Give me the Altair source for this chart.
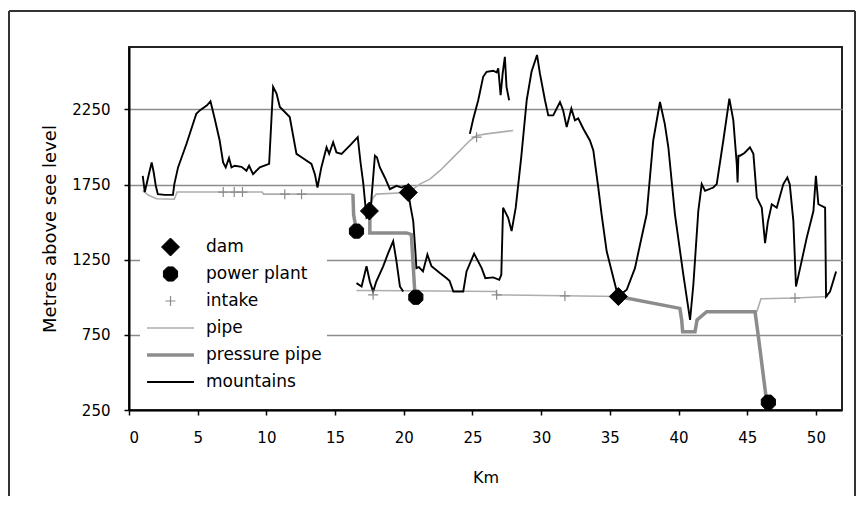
import altair as alt
import pandas as pd

# ---------------- data ----------------
series_names = ["dam", "power plant", "intake", "pipe", "pressure pipe", "mountains"]

# main mountain profile
mtn_km = [1.0, 1.15, 1.45, 1.65, 1.8, 1.95, 2.1, 2.6, 3.2, 3.3, 3.57, 4.18, 4.9, 5.15, 5.68, 5.93,
          6.24, 6.6, 6.85, 7.04, 7.28, 7.46, 7.7, 8.19, 8.55, 8.74, 9.03, 9.52, 10.2, 10.37, 10.49,
          10.74, 10.98, 11.7, 12.19, 12.56, 13.28, 13.53, 13.72, 14.0, 14.38, 14.57, 14.86, 15.1,
          15.47, 16.07, 16.65, 16.85, 17.05, 17.29, 17.45, 17.6, 17.9, 18.05, 18.26, 18.62, 18.99,
          19.47, 19.84, 20.1, 20.33, 20.5, 20.69, 20.85, 20.92, 21.1, 21.4, 21.72, 22.02, 22.63,
          23.12, 23.33, 23.61, 24.33, 24.57, 25.12, 25.67, 25.94, 26.51, 26.95, 27.1, 27.23, 27.6,
          27.85, 28.15, 28.55, 28.95, 29.3, 29.7, 29.91, 30.28, 30.52, 30.88, 31.37, 31.6, 31.86,
          32.2, 32.46, 32.7, 33.07, 33.55, 33.8, 34.16, 34.4, 34.77, 35.6, 36.23, 36.83, 37.2,
          37.68, 38.16, 38.65, 39.0, 39.26, 39.74, 40.35, 40.84, 41.08, 41.44, 41.69, 41.93, 42.53,
          42.78, 43.26, 43.7, 43.99, 44.24, 44.3, 44.36, 44.48, 44.8, 45.2, 45.45, 45.7, 46.06,
          46.3, 46.5, 46.79, 47.15, 47.63, 47.92, 48.1, 48.36, 48.55, 48.85, 49.33, 49.82, 50.0,
          50.18, 50.67, 50.74, 51.03, 51.47]
mtn_m = [1808, 1700, 1820, 1897, 1830, 1741, 1686, 1681, 1681, 1753, 1864, 2020, 2221, 2243, 2277, 2304,
         2188, 2043, 1897, 1864, 1927, 1864, 1875, 1868, 1842, 1875, 1819, 1864, 1887, 2188, 2400,
         2355, 2266, 2199, 1954, 1931, 1887, 1819, 1730, 1864, 1998, 1954, 2031, 1964,
         1954, 2009, 2065, 1900, 1760, 1529, 1540, 1600, 1942, 1930, 1864, 1797, 1719,
         1741, 1730, 1741, 1697, 1600, 1507, 1300, 1194, 1200, 1172, 1284, 1206, 1161,
         1127, 1110, 1038, 1038, 1172, 1290, 1194, 1127, 1132, 1116, 1150, 1596, 1529,
         1440, 1596, 1931, 2311, 2500, 2612, 2489, 2311, 2210, 2210, 2299, 2244, 2132,
         2255, 2177, 2190, 2121, 2043, 1976, 1730, 1552, 1306, 1005, 1050, 1194, 1351,
         1552, 2043, 2299, 2154, 1998, 1552, 1150, 849, 1083, 1574, 1753, 1708, 1730,
         1753, 2043, 2322, 2177, 1887, 1763, 1942, 1942, 1960, 1998, 1954, 1663, 1596,
         1360, 1500, 1619, 1596, 1753, 1797, 1750, 1507, 1072, 1194, 1395, 1574, 1808,
         1619, 1596, 1005, 1038, 1172]

# lower ridge between km 16.5 and 20
mtn2_km = [16.56, 16.93, 17.29, 17.53, 17.77, 18.0, 18.5, 18.85, 19.23, 19.47, 19.72, 19.96]
mtn2_m = [1094, 1072, 1206, 1105, 1038, 1105, 1206, 1290, 1373, 1239, 1072, 1038]

# high ridge between km 24.8 and 27.7
mtn3_km = [24.81, 25.06, 25.42, 25.78, 26.03, 26.51, 26.76, 26.88, 27.05, 27.2, 27.36, 27.48, 27.67]
mtn3_m = [2087, 2188, 2311, 2467, 2500, 2507, 2496, 2523, 2344, 2489, 2600, 2400, 2311]

# pipes
pipe1_km = [1.0, 1.4, 2.0, 3.3, 3.5, 9.7, 9.8, 16.3]
pipe1_m = [1710, 1680, 1655, 1652, 1700, 1700, 1686, 1686]
pipe2_km = [17.53, 17.75, 18.0, 20.33]
pipe2_m = [1574, 1660, 1686, 1697]
pipe3_km = [20.33, 21.17, 21.9, 22.63, 23.6, 24.33, 24.81, 25.3, 26.03, 27.97]
pipe3_m = [1697, 1753, 1786, 1842, 1931, 1998, 2043, 2076, 2087, 2110]
pipe4_km = [16.56, 20.0, 26.7, 26.8, 35.62]
pipe4_m = [1045, 1043, 1038, 1016, 1005]
pipe5_km = [45.7, 46.0, 48.5, 50.9]
pipe5_m = [904, 990, 995, 1005]

# pressure pipes
press1_km = [16.3, 16.35, 16.56]
press1_m = [1686, 1550, 1440]
press2_km = [17.53, 17.53, 20.2, 20.55, 20.8, 20.88]
press2_m = [1574, 1428, 1428, 1418, 1040, 1005]
press3_km = [35.62, 40.1, 40.23, 40.3, 41.2, 41.35, 42.05, 45.57, 45.8, 46.42, 46.54]
press3_m = [1005, 926, 849, 770, 770, 849, 904, 904, 748, 302, 302]

# structures
dam_km = [17.5, 20.33, 35.62]
dam_m = [1574, 1697, 1005]
plant_km = [16.56, 20.88, 46.54]
plant_m = [1440, 1000, 302]
intake_km = [6.86, 7.66, 8.26, 11.34, 12.56, 17.77, 25.3, 26.76, 31.73, 48.48]
intake_m = [1700, 1700, 1700, 1686, 1686, 1016, 2065, 1016, 1009, 995]

y_ticks = [250, 750, 1250, 1750, 2250]
x_ticks = [0, 5, 10, 15, 20, 25, 30, 35, 40, 45, 50]


def seg_df(series, seg, kms, ms):
    return pd.DataFrame({"series": series, "seg": seg, "idx": list(range(len(kms))),
                         "km": kms, "m": ms})


mountains = pd.concat([seg_df("mountains", "m1", mtn_km, mtn_m),
                       seg_df("mountains", "m2", mtn2_km, mtn2_m),
                       seg_df("mountains", "m3", mtn3_km, mtn3_m)])
pipes = pd.concat([seg_df("pipe", "p1", pipe1_km, pipe1_m),
                   seg_df("pipe", "p2", pipe2_km, pipe2_m),
                   seg_df("pipe", "p3", pipe3_km, pipe3_m),
                   seg_df("pipe", "p4", pipe4_km, pipe4_m),
                   seg_df("pipe", "p5", pipe5_km, pipe5_m)])
press = pd.concat([seg_df("pressure pipe", "q1", press1_km, press1_m),
                   seg_df("pressure pipe", "q2", press2_km, press2_m),
                   seg_df("pressure pipe", "q3", press3_km, press3_m)])
points = pd.concat([
    pd.DataFrame({"series": "intake", "km": intake_km, "m": intake_m}),
    pd.DataFrame({"series": "dam", "km": dam_km, "m": dam_m}),
    pd.DataFrame({"series": "power plant", "km": plant_km, "m": plant_m}),
])

# ---------------- styling ----------------
FONT = "DejaVu Sans"
octagon = "M-0.414,-1L0.414,-1L1,-0.414L1,0.414L0.414,1L-0.414,1L-1,0.414L-1,-0.414Z"
plus = "M-1,0L1,0M0,-1L0,1"

stroke_scale = alt.Scale(domain=series_names,
                         range=["#000000", "#000000", "#8a8a8a", "#adadad", "#8c8c8c", "#000000"])
fill_scale = alt.Scale(domain=series_names,
                       range=["#000000", "#000000", "transparent", "transparent", "transparent", "transparent"])
shape_scale = alt.Scale(domain=series_names,
                        range=["diamond", octagon, plus, "stroke", "stroke", "stroke"])
size_scale = alt.Scale(type="ordinal", domain=series_names,
                       range=[324, 200, 100, 2200, 2200, 2200])
sw_scale = alt.Scale(type="ordinal", domain=series_names,
                     range=[1, 1, 1.2, 1.6, 3.5, 1.9])

leg = alt.Legend(orient="none", legendX=11, legendY=185, title=None,
                 labelFont=FONT, labelFontSize=17, labelColor="#000000",
                 clipHeight=20, rowPadding=7, labelOffset=10, padding=5,
                 fillColor="white", symbolOpacity=1)

x_enc = alt.X("km:Q", scale=alt.Scale(domain=[0, 51.9], nice=False, zero=False),
              axis=alt.Axis(values=x_ticks, title="Km", grid=False, tickSize=5,
                            labelPadding=15, titlePadding=24, format="d"))
y_enc = alt.Y("m:Q", scale=alt.Scale(domain=[250, 2665], nice=False, zero=False),
              axis=alt.Axis(values=y_ticks, title="Metres above see level", grid=True,
                            tickSize=5, labelPadding=14, titlePadding=12, titleFontSize=18,
                            format="d"))

stroke_enc = alt.Stroke("series:N", scale=stroke_scale, legend=leg)
sw_enc = alt.StrokeWidth("series:N", scale=sw_scale, legend=leg)

pipe_layer = alt.Chart(pipes).mark_line(opacity=1).encode(
    x=x_enc, y=y_enc, stroke=stroke_enc, strokeWidth=sw_enc, detail="seg:N", order="idx:Q")
press_layer = alt.Chart(press).mark_line(opacity=1).encode(
    x=x_enc, y=y_enc, stroke=stroke_enc, strokeWidth=sw_enc, detail="seg:N", order="idx:Q")
mtn_layer = alt.Chart(mountains).mark_line(opacity=1).encode(
    x=x_enc, y=y_enc, stroke=stroke_enc, strokeWidth=sw_enc, detail="seg:N", order="idx:Q")
point_layer = alt.Chart(points).mark_point(filled=True, opacity=1).encode(
    x=x_enc, y=y_enc,
    shape=alt.Shape("series:N", scale=shape_scale, legend=leg),
    fill=alt.Fill("series:N", scale=fill_scale, legend=leg),
    stroke=stroke_enc,
    size=alt.Size("series:N", scale=size_scale, legend=leg),
    strokeWidth=sw_enc)

frame_data = alt.Data(values=[{"k": 1}])
frame_left = alt.Chart(frame_data).mark_rule(color="#333333", strokeWidth=2).encode(
    x=alt.value(-120), y=alt.value(-36), y2=alt.value(449))
frame_right = alt.Chart(frame_data).mark_rule(color="#333333", strokeWidth=2).encode(
    x=alt.value(726), y=alt.value(-36), y2=alt.value(449))
frame_top = alt.Chart(frame_data).mark_rule(color="#333333", strokeWidth=2).encode(
    x=alt.value(-120), x2=alt.value(726), y=alt.value(-36))

chart = alt.layer(frame_left, frame_right, frame_top,
                  pipe_layer, press_layer, mtn_layer, point_layer).properties(
    width=713, height=363,
    padding={"left": 0, "top": 2, "right": 0, "bottom": 0},
    background="white",
).configure_view(
    stroke="#222222", strokeWidth=2
).configure_axis(
    labelFont=FONT, labelFontSize=15, labelColor="#000000",
    titleFont=FONT, titleFontSize=16, titleFontWeight="normal", titleColor="#000000",
    domainColor="#000000", domainWidth=2, tickColor="#000000", tickWidth=1.5,
    gridColor="#8c8c8c", gridWidth=1.5, gridOpacity=1
)

chart.save("out.html", embed_options={"renderer": "svg", "actions": False})
